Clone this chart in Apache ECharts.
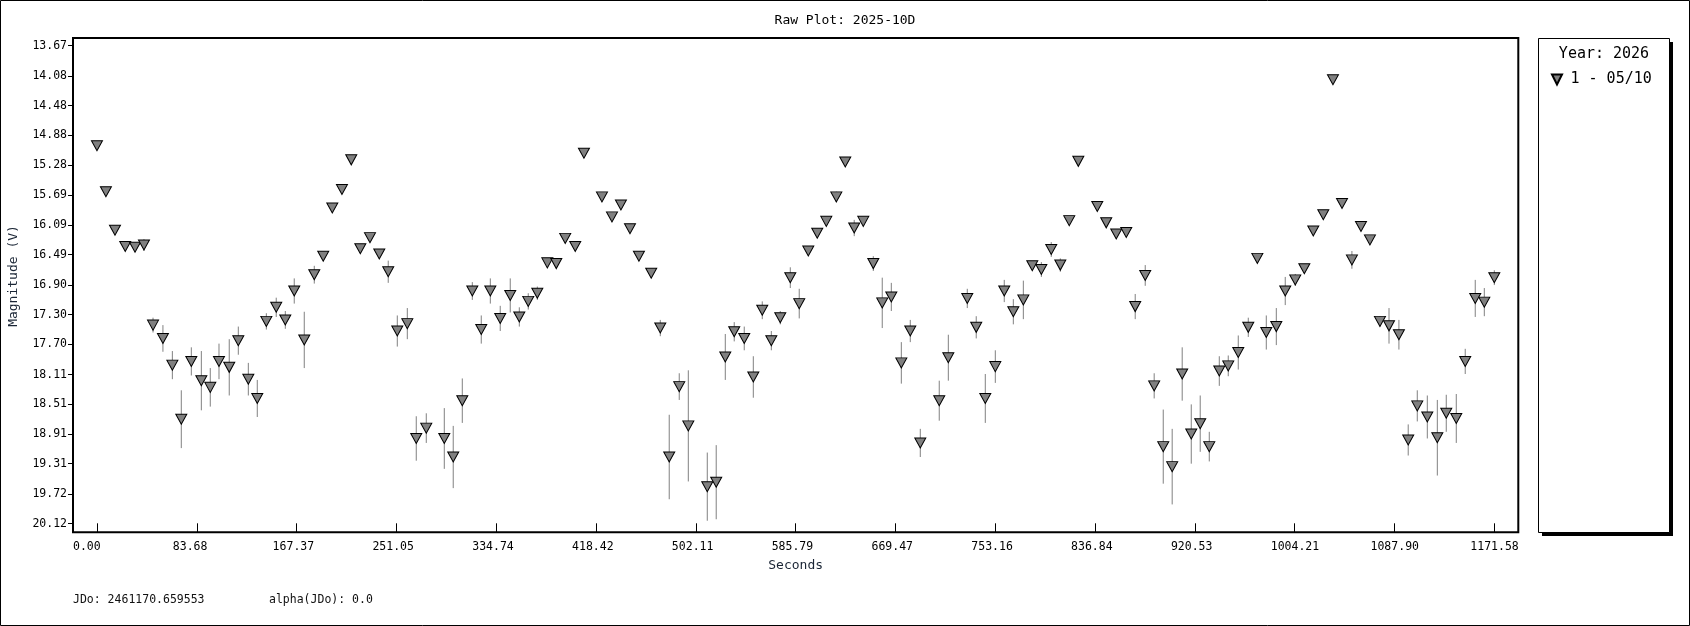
<!DOCTYPE html>
<html>
<head>
<meta charset="utf-8">
<script src="https://cdn.jsdelivr.net/npm/echarts@6/dist/echarts.min.js"></script>
<style>html,body{margin:0;padding:0;background:#fff}#c{width:1690px;height:626px}</style>
</head>
<body>
<div id="c"></div>
<script>
// ---- data ----
const times = [
  0.0, 7.5, 15.1, 23.7, 31.9, 39.4, 47.0, 55.3, 63.2, 70.7,
  79.1, 87.5, 95.0, 102.3, 110.9, 118.5, 126.9, 134.4, 142.0, 150.3,
  157.9, 165.4, 173.8, 182.2, 189.7,
  197.3, 205.4, 213.2, 220.8, 228.9, 236.7, 244.2, 251.8, 260.2, 267.7,
  276.1, 291.2, 298.7, 306.3, 314.7, 322.2, 329.8, 338.1, 346.5, 354.1,
  361.6, 369.2, 377.6, 385.1, 392.6, 401.0,
  408.3, 423.4, 431.8, 439.3, 446.9, 454.4, 464.7, 472.3, 479.8, 488.2,
  495.8, 511.7, 519.2, 526.8, 534.3, 542.7, 550.3, 557.8, 565.4, 572.9,
  581.3, 588.8, 596.4, 603.9, 611.5,
  619.9, 627.4, 634.9, 642.5, 650.9, 658.4, 666.0, 674.4, 681.9, 690.3,
  706.2, 713.8, 729.7, 737.2, 744.8, 753.2, 760.7, 768.3, 776.7, 784.2,
  791.8, 800.1, 807.7, 815.2, 822.8,
  838.7, 846.2, 854.6, 863.0, 870.5, 878.9, 886.4, 894.0, 901.5, 909.9,
  917.5, 925.0, 932.6, 941.0, 948.5, 956.9, 965.3, 972.9, 980.4, 988.8,
  996.3, 1004.7, 1012.3, 1019.8, 1028.2,
  1036.3, 1043.9, 1052.2, 1059.8, 1067.3, 1075.7, 1083.3, 1091.6, 1099.4, 1107.0,
  1115.4, 1123.8, 1131.3, 1139.7, 1147.2, 1155.6, 1163.2, 1171.58
];
const mags = [
  15.02, 15.64, 16.16, 16.38, 16.39, 16.36, 17.44, 17.62, 17.98, 18.71,
  17.93, 18.19, 18.28, 17.93, 18.01, 17.65, 18.17, 18.43, 17.39, 17.20,
  17.37, 16.98, 17.64, 16.76, 16.51,
  15.86, 15.61, 15.21, 16.41, 16.26, 16.48, 16.72, 17.52, 17.42, 18.97,
  18.83, 18.97, 19.22, 18.46, 16.98, 17.50, 16.98, 17.35, 17.04, 17.33,
  17.12, 17.01, 16.60, 16.61, 16.27, 16.38,
  15.12, 15.71, 15.98, 15.82, 16.14, 16.51, 16.74, 17.48, 19.22, 18.27,
  18.80, 19.62, 19.56, 17.87, 17.53, 17.62, 18.14, 17.24, 17.65, 17.34,
  16.80, 17.15, 16.44, 16.20, 16.04,
  15.71, 15.24, 16.13, 16.04, 16.61, 17.14, 17.06, 17.95, 17.52, 19.03,
  18.46, 17.88, 17.08, 17.47, 18.43, 18.00, 16.98, 17.26, 17.10, 16.64,
  16.69, 16.42, 16.63, 16.03, 15.23,
  15.84, 16.06, 16.21, 16.19, 17.19, 16.77, 18.26, 19.08, 19.35, 18.10,
  18.91, 18.77, 19.08, 18.06, 17.99, 17.81, 17.47, 16.54, 17.54, 17.46,
  16.98, 16.83, 16.68, 16.17, 15.95,
  14.13, 15.80, 16.56, 16.11, 16.29, 17.39, 17.45, 17.57, 18.99, 18.53,
  18.68, 18.96, 18.63, 18.70, 17.93, 17.08, 17.13, 16.80
];
const errs = [
  0.02, 0.02, 0.02, 0.02, 0.02, 0.08, 0.10, 0.18, 0.19, 0.39,
  0.19, 0.40, 0.26, 0.24, 0.38, 0.19, 0.22, 0.25, 0.11, 0.13,
  0.12, 0.17, 0.38, 0.12, 0.03,
  0.02, 0.02, 0.02, 0.02, 0.02, 0.02, 0.15, 0.21, 0.21, 0.30,
  0.20, 0.41, 0.42, 0.30, 0.12, 0.19, 0.17, 0.17, 0.23, 0.13,
  0.11, 0.09, 0.02, 0.02, 0.02, 0.05,
  0.02, 0.02, 0.02, 0.02, 0.02, 0.02, 0.02, 0.11, 0.57, 0.18,
  0.75, 0.46, 0.50, 0.31, 0.13, 0.16, 0.28, 0.12, 0.13, 0.09,
  0.14, 0.20, 0.02, 0.02, 0.02,
  0.07, 0.02, 0.11, 0.02, 0.10, 0.34, 0.19, 0.28, 0.15, 0.19,
  0.27, 0.31, 0.13, 0.15, 0.33, 0.22, 0.15, 0.17, 0.26, 0.04,
  0.10, 0.10, 0.09, 0.02, 0.02,
  0.02, 0.02, 0.02, 0.04, 0.17, 0.14, 0.17, 0.50, 0.51, 0.36,
  0.40, 0.38, 0.20, 0.20, 0.14, 0.23, 0.13, 0.02, 0.23, 0.25,
  0.19, 0.08, 0.02, 0.02, 0.02,
  0.02, 0.02, 0.12, 0.02, 0.03, 0.07, 0.24, 0.20, 0.21, 0.21,
  0.29, 0.51, 0.25, 0.33, 0.17, 0.25, 0.19, 0.10
];
const xTickLabels = ['0.00','83.68','167.37','251.05','334.74','418.42','502.11','585.79',
  '669.47','753.16','836.84','920.53','1004.21','1087.90','1171.58'];
const yTickLabels = ['13.67','14.08','14.48','14.88','15.28','15.69','16.09','16.49','16.90',
  '17.30','17.70','18.11','18.51','18.91','19.31','19.72','20.12'];
const seriesName = '1 - 05/10';
const titleText = 'Raw Plot: 2025-10D';
const legendTitle = 'Year: 2026';
const xName = 'Seconds';
const yName = 'Magnitude (V)';
const footJD = 'JDo: 2461170.659553';
const footAlpha = 'alpha(JDo): 0.0';

// ---- chart ----
const xTicks = xTickLabels.map(Number);
const yTicks = yTickLabels.map(Number);
const F = '"DejaVu Sans Mono", "Liberation Mono", monospace';
const TRI = 'path://M0,0L10,0L5,10Z';
const X_MIN = -20.1, X_MAX = 1191.7, LABEL_SHIFT = 20.1;

const chart = echarts.init(document.getElementById('c'), null, {renderer: 'canvas'});
const option = {
  animation: false,
  backgroundColor: '#ffffff',
  title: [
    {text: titleText, left: 'center', top: 14, padding: 0,
     textStyle: {fontFamily: F, fontSize: 13, fontWeight: 'normal', color: '#000'}},
    {text: legendTitle, left: 1604, textAlign: 'center', top: 47, padding: 0,
     textStyle: {fontFamily: F, fontSize: 15, fontWeight: 'normal', color: '#000'}}
  ],
  legend: {
    data: [{name: seriesName, icon: TRI}],
    left: 1551, top: 72, padding: 0, orient: 'vertical',
    itemWidth: 11, itemHeight: 10,
    textStyle: {fontFamily: F, fontSize: 15, color: '#000', padding: [0, 0, 0, 3]}
  },
  grid: {left: 73, top: 38, right: 171.7, bottom: 93.7, show: true,
         borderColor: '#000', borderWidth: 2, backgroundColor: 'transparent',
         outerBoundsMode: 'none'},
  xAxis: [
    {type: 'value', min: X_MIN, max: X_MAX,
     axisLine: {show: false, onZero: false}, splitLine: {show: false},
     axisTick: {show: true, inside: true, length: 9, customValues: xTicks,
                lineStyle: {color: '#000', width: 1}},
     axisLabel: {show: false},
     name: xName, nameLocation: 'middle', nameGap: 27,
     nameTextStyle: {fontFamily: F, fontSize: 13, color: '#1a2535'}},
    {type: 'value', min: X_MIN + LABEL_SHIFT, max: X_MAX + LABEL_SHIFT, position: 'bottom',
     axisLine: {show: false, onZero: false}, axisTick: {show: false}, splitLine: {show: false},
     axisLabel: {show: true, customValues: xTicks, formatter: v => v.toFixed(2),
                 align: 'left', margin: 9, fontFamily: F, fontSize: 11.5, color: '#000'}}
  ],
  yAxis: {
    type: 'value', inverse: true, min: 13.566, max: 20.236,
    axisLine: {show: false, onZero: false}, splitLine: {show: false},
    axisTick: {show: true, inside: false, length: 5, customValues: yTicks,
               lineStyle: {color: '#000', width: 1}},
    axisLabel: {customValues: yTicks, formatter: v => v.toFixed(2), margin: 6,
                fontFamily: F, fontSize: 11.5, color: '#000'}
  },
  graphic: [
    {type: 'rect', silent: true, z: -10,
     shape: {x: 0.5, y: 0.5, width: 1689, height: 625},
     style: {fill: 'none', stroke: '#000', lineWidth: 1}},
    {type: 'rect', silent: true, z: -6,
     shape: {x: 1542, y: 42, width: 131, height: 494},
     style: {fill: '#000', stroke: 'none'}},
    {type: 'rect', silent: true, z: -5,
     shape: {x: 1538.5, y: 38.5, width: 131, height: 494},
     style: {fill: '#fff', stroke: '#000', lineWidth: 1}},
    {type: 'text', x: 13.5, y: 276, rotation: Math.PI / 2, silent: true,
     style: {text: yName, fontFamily: F, fontSize: 13, fill: '#1a2535',
             align: 'center', verticalAlign: 'middle'}},
    {type: 'text', x: 73, y: 600, silent: true,
     style: {text: footJD, fontFamily: F, fontSize: 11.5, fill: '#111',
             align: 'left', verticalAlign: 'middle'}},
    {type: 'text', x: 269, y: 600, silent: true,
     style: {text: footAlpha, fontFamily: F, fontSize: 11.5, fill: '#111',
             align: 'left', verticalAlign: 'middle'}}
  ],
  series: [
    {type: 'custom', name: 'err', z: 1, silent: true,
     data: times.map((t, i) => [t, mags[i], errs[i]]),
     encode: {x: 0, y: 1},
     renderItem: function (params, api) {
       const x = api.value(0), y = api.value(1), e = api.value(2);
       const p1 = api.coord([x, y - e]);
       const p2 = api.coord([x, y + e]);
       return {type: 'line',
               shape: {x1: p1[0], y1: p1[1], x2: p2[0], y2: p2[1]},
               style: {stroke: '#808080', lineWidth: 1}};
     }},
    {type: 'scatter', name: seriesName, z: 3,
     data: times.map((t, i) => [t, mags[i]]),
     symbol: TRI, symbolSize: [11, 10],
     itemStyle: {color: '#808080', borderColor: '#000', borderWidth: 1, opacity: 1},
     emphasis: {disabled: true}}
  ]
};
chart.setOption(option);
</script>
</body>
</html>
